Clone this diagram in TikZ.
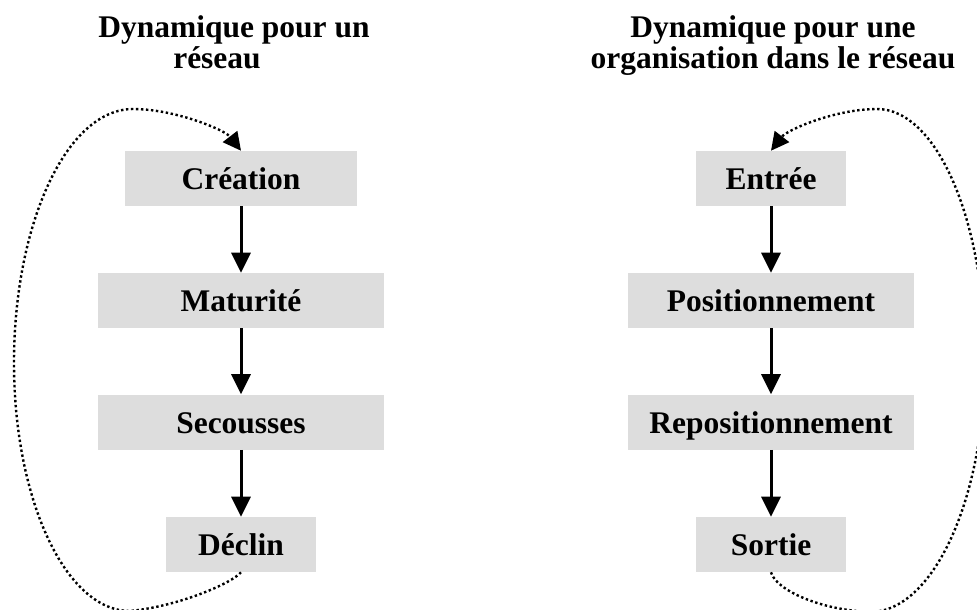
\documentclass[tikz,border=0pt]{standalone}
\usepackage{fontspec}
\setmainfont{Liberation Serif}
\usepackage{xcolor}
\usepackage{tikz}
\usetikzlibrary{arrows.meta}
\definecolor{boxgray}{RGB}{221,221,221}

\tikzset{
  etape/.style={fill=boxgray, minimum height=13.75mm, inner sep=0pt,
    text height=16pt, text depth=0pt,
    font=\bfseries\fontsize{22.4pt}{27pt}\selectfont},
  titre/.style={align=center, inner sep=0pt,
    font=\bfseries\fontsize{22.4pt}{19.85pt}\selectfont},
  fleche/.style={line width=0.75mm, -{Triangle[length=5mm,width=4.75mm]}},
  boucle/.style={line width=0.6mm, dash pattern=on 0.6mm off 0.65mm,
    -{Triangle[length=4.5mm,width=4.5mm]}},
}

\begin{document}
\begin{tikzpicture}[x=0.25mm,y=-0.25mm]
\useasboundingbox (0,0) rectangle (977,609);
\clip (0,0) rectangle (977,609);
\coordinate (A) at (241,178.5);
\coordinate (B) at (241,300.5);
\coordinate (C) at (241,422);
\coordinate (D) at (241,544.5);
\coordinate (E) at (771,178.5);
\coordinate (F) at (771,300.5);
\coordinate (G) at (771,422);
\coordinate (H) at (771,544.5);
% titres (ancre sur la derniere ligne)
\node[titre, anchor=base] (titreA) at (234,68) {Dynamique pour un\\r\'eseau\hspace*{8.5mm}};
\node[titre, anchor=base] (titreE) at (773,68) {Dynamique pour une\\organisation dans le r\'eseau};
% dynamique du reseau
\node[etape, minimum width=58mm] (creation) at (A) {Cr\'eation};
\node[etape, minimum width=71.5mm] (maturite) at (B) {Maturit\'e};
\node[etape, minimum width=71.5mm] (secousses) at (C) {Secousses};
\node[etape, minimum width=37.5mm] (declin) at (D) {D\'eclin};
\draw[fleche] (creation) -- (maturite);
\draw[fleche] (maturite) -- (secousses);
\draw[fleche] (secousses) -- (declin);
% dynamique de l'organisation
\node[etape, minimum width=37.5mm] (entree) at (E) {Entr\'ee};
\node[etape, minimum width=71.5mm] (positionnement) at (F) {Positionnement};
\node[etape, minimum width=71.5mm] (repositionnement) at (G) {Repositionnement};
\node[etape, minimum width=37.5mm] (sortie) at (H) {Sortie};
\draw[fleche] (entree) -- (positionnement);
\draw[fleche] (positionnement) -- (repositionnement);
\draw[fleche] (repositionnement) -- (sortie);
% boucles
\coordinate (K) at (130,611);
\coordinate (L) at (14,363);
\coordinate (M) at (133,109);
\coordinate (N) at (870,612);
\coordinate (O) at (985,360);
\coordinate (P) at (877,109);
\draw[boucle] (declin.south) .. controls (232,583) and (180,606) .. (K)
  .. controls (66,611) and (14,500) .. (L)
  .. controls (14,223) and (67,109) .. (M)
  .. controls (175,109) and (225,130) .. (creation.north);
\draw[boucle] (sortie.south) .. controls (776,590) and (820,610) .. (N)
  .. controls (933,612) and (985,499) .. (O)
  .. controls (985,221) and (937,109) .. (P)
  .. controls (835,109) and (787,130) .. (entree.north);
\end{tikzpicture}
\end{document}
